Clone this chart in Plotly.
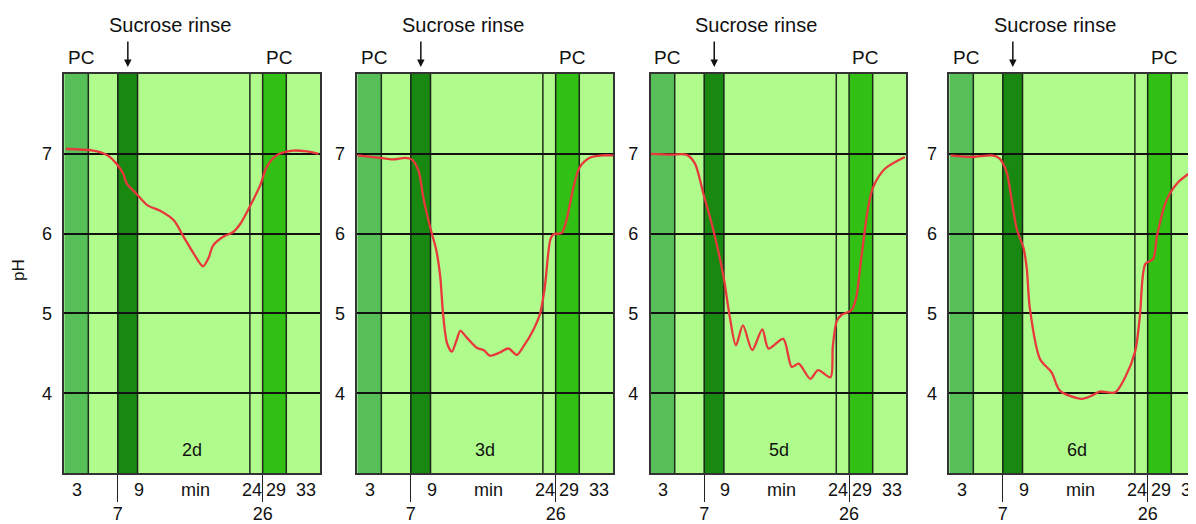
import plotly.graph_objects as go

# ---------------- data ----------------
panel_labels = ["2d", "3d", "5d", "6d"]

# time (min) and pH
t1 = [0.2, 3.7, 5.4, 6.7, 7.6, 8.05, 9.3, 10.8, 12.3, 14.1, 15.4, 16.7, 17.9, 18.6, 19.2,
      20.5, 21.8, 22.7, 24.0, 25.3, 26.1, 27.4, 29.5, 31.3, 32.8]
ph1 = [7.06, 7.04, 6.99, 6.88, 6.75, 6.63, 6.50, 6.35, 6.29, 6.17, 5.96, 5.75, 5.59, 5.69, 5.85,
       5.96, 6.02, 6.12, 6.35, 6.61, 6.83, 6.98, 7.04, 7.03, 7.00]

t2 = [0.0, 2.9, 4.6, 6.2, 7.0, 7.9, 8.5, 9.4, 10.2, 10.7, 11.1, 11.6, 12.2, 12.8, 13.3, 14.1,
      15.4, 16.3, 17.1, 18.4, 19.5, 20.6, 21.4, 22.7, 23.6, 24.2, 24.9, 25.3, 26.4, 27.0, 27.9,
      28.7, 30.0, 31.7, 33.0]
ph2 = [6.98, 6.95, 6.93, 6.95, 6.93, 6.79, 6.46, 6.08, 5.79, 5.46, 4.96, 4.62, 4.52, 4.66, 4.78,
       4.70, 4.57, 4.54, 4.47, 4.51, 4.56, 4.48, 4.58, 4.79, 5.00, 5.33, 5.92, 5.99, 6.01, 6.17,
       6.58, 6.83, 6.95, 6.98, 6.98]

t3 = [0.0, 2.7, 4.6, 5.7, 6.8, 8.1, 9.4, 10.2, 11.0, 11.9, 13.1, 14.4, 15.2, 17.1, 18.2, 19.1,
      20.6, 21.6, 23.2, 23.5, 24.0, 24.6, 25.9, 26.5, 27.2, 28.0, 28.7, 30.2, 32.8]
ph3 = [7.00, 6.99, 6.99, 6.88, 6.50, 6.04, 5.46, 4.96, 4.60, 4.85, 4.54, 4.80, 4.56, 4.68, 4.33,
       4.37, 4.18, 4.29, 4.20, 4.58, 4.90, 4.98, 5.04, 5.19, 5.71, 6.29, 6.58, 6.81, 6.96]

t4 = [0.2, 2.9, 5.5, 6.5, 7.4, 8.1, 8.7, 9.6, 10.0, 10.4, 11.7, 13.2, 14.3, 17.1, 18.4, 19.4,
      21.4, 22.7, 24.0, 24.6, 25.3, 26.3, 26.8, 28.0, 29.5, 31.8]
ph4 = [6.98, 6.96, 6.98, 6.94, 6.77, 6.39, 6.06, 5.81, 5.56, 5.06, 4.43, 4.26, 4.03, 3.93, 3.97,
       4.02, 4.01, 4.20, 4.53, 4.97, 5.62, 5.68, 5.97, 6.41, 6.64, 6.81]

series_t = [t1, t2, t3, t4]
series_ph = [ph1, ph2, ph3, ph4]

# band boundaries (min), as drawn
pc1_band = (0.0, 3.1)
sucrose_band = (6.9, 9.45)
pc2_band = (25.6, 28.65)
boundary_lines = [3.1, 6.9, 9.45, 23.95, 25.6, 28.65]

y_ticks = [4, 5, 6, 7]
x_tick_vals = [6.9, 25.6]
x_tick_text = ["7", "26"]
# additional labels under the x axis: (position in min, text)
x_under_labels = [(1.64, "3"), (9.6, "9"), (16.9, "min"), (24.2, "24"), (27.3, "29"), (31.15, "33")]

# ---------------- styling ----------------
# the page adds an 8px body margin, so the figure is 8px smaller than the window
W, H = 1188, 516
OFF = 8
FONT = "Liberation Sans, Arial, Helvetica, sans-serif"
LIGHT = "#AFFC8C"
PC1_COL = "#57BF57"
SUC_COL = "#188811"
PC2_COL = "#33C014"
RED = "#E8383C"
LINE = "rgba(20,20,20,0.9)"

px_per_min = 255.7 / 33.0
lefts = [64.3 - OFF, 357.3 - OFF, 650.7 - OFF, 949.3 - OFF]
y_top, y_bot = 74.0 - OFF, 473.0 - OFF

fig = go.Figure()

for i in range(4):
    n = i + 1
    xa = "x" if n == 1 else f"x{n}"
    ya = "y" if n == 1 else f"y{n}"
    left = lefts[i]
    right = min(left + 33 * px_per_min, W)
    xmax = (right - left) / px_per_min

    fig.add_trace(go.Scatter(
        x=series_t[i], y=series_ph[i], mode="lines",
        line=dict(color=RED, width=2.3, shape="spline", smoothing=0.8),
        xaxis=xa, yaxis=ya, showlegend=False, hoverinfo="skip"))

    fig.update_layout({
        f"xaxis{n if n > 1 else ''}": dict(
            domain=[left / W, right / W], range=[0, xmax], anchor=ya,
            showgrid=False, zeroline=False,
            tickvals=x_tick_vals, ticktext=x_tick_text,
            ticks="outside", ticklen=27, tickwidth=1.3, tickcolor="#222",
            ticklabelstandoff=-3,
            tickfont=dict(family=FONT, size=18, color="#111"),
            showline=True, linecolor="#333", linewidth=1.5, mirror=True),
        f"yaxis{n if n > 1 else ''}": dict(
            domain=[1 - y_bot / H, 1 - y_top / H], range=[3, 8], anchor=xa,
            tickvals=y_ticks, showgrid=True, gridcolor="#111", gridwidth=1.5,
            zeroline=False, ticks="", ticklabelstandoff=7,
            tickfont=dict(family=FONT, size=18, color="#111"),
            showline=True, linecolor="#333", linewidth=1.5,
            mirror=(n != 4)),
    })

    dom = f"{ya} domain"
    for (a, b), col in [(pc1_band, PC1_COL), (sucrose_band, SUC_COL), (pc2_band, PC2_COL)]:
        fig.add_shape(type="rect", xref=xa, yref=dom, x0=a, x1=b, y0=0, y1=1,
                      fillcolor=col, line=dict(width=0), layer="below")
    for bx in boundary_lines:
        fig.add_shape(type="line", xref=xa, yref=dom, x0=bx, x1=bx, y0=0, y1=1,
                      line=dict(color=LINE, width=1.5), layer="below")

    # annotations
    txt_kw = dict(showarrow=False, xanchor="center", yanchor="middle")
    fig.add_annotation(x=16.5, y=0.058, xref=xa, yref=dom, text=panel_labels[i],
                       font=dict(family=FONT, size=18, color="#111"), **txt_kw)
    for xv, txt in x_under_labels:
        fig.add_annotation(x=xv, y=0, xref=xa, yref=dom, text=txt, yanchor="top",
                           xanchor="center", yshift=-5, showarrow=False,
                           font=dict(family=FONT, size=18, color="#111"))
    fig.add_annotation(x=13.6, y=1.123, xref=xa, yref=dom, text="Sucrose rinse",
                       font=dict(family=FONT, size=20, color="#111"), **txt_kw)
    fig.add_annotation(x=2.15, y=1.0426, xref=xa, yref=dom, text="PC",
                       font=dict(family=FONT, size=19, color="#111"), **txt_kw)
    fig.add_annotation(x=27.7, y=1.0426, xref=xa, yref=dom, text="PC",
                       font=dict(family=FONT, size=19, color="#111"), **txt_kw)
    fig.add_annotation(x=8.2, y=1.0175, xref=xa, yref=dom, text="", showarrow=True,
                       ax=0, ay=-27, arrowhead=2, arrowsize=1, arrowwidth=1.5,
                       arrowcolor="#111")

fig.add_annotation(x=(18 - OFF) / W, y=1 - (270 - OFF) / H, xref="paper", yref="paper",
                   text="pH", textangle=-90, showarrow=False, xanchor="center",
                   yanchor="middle", font=dict(family=FONT, size=17, color="#111"))

fig.update_layout(
    width=W, height=H, margin=dict(l=0, r=0, t=0, b=0),
    paper_bgcolor="white", plot_bgcolor=LIGHT, showlegend=False)

fig.write_html("out.html")
